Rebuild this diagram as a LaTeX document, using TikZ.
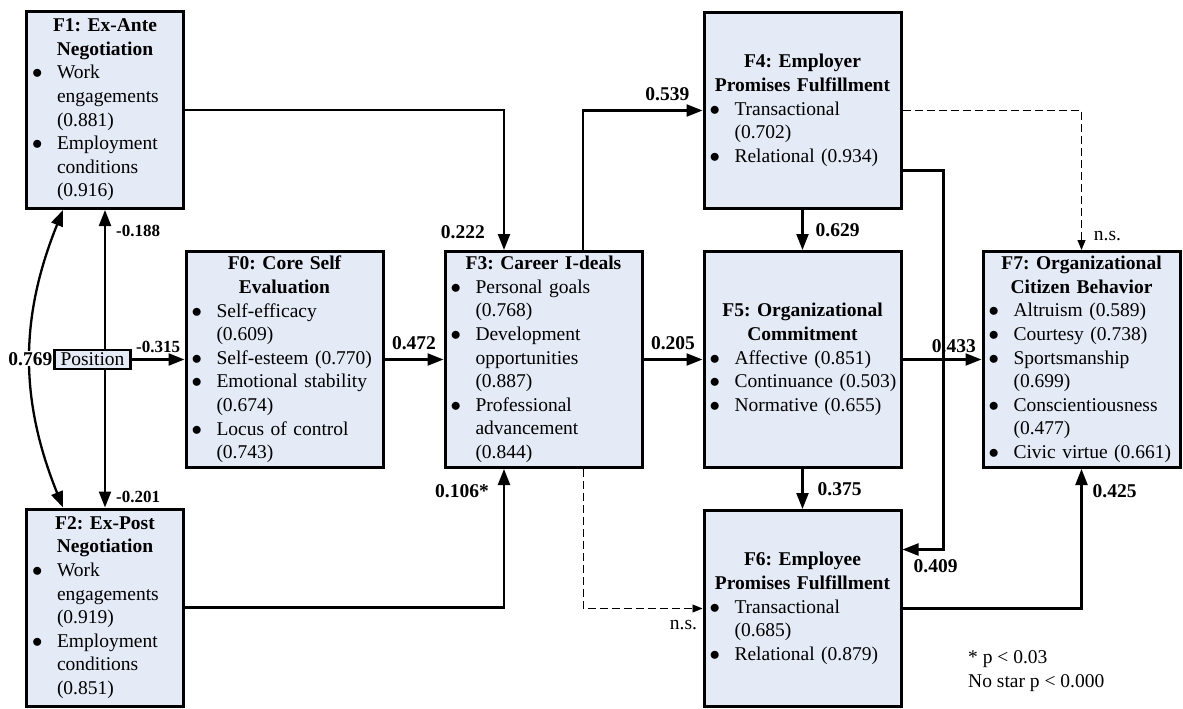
\documentclass[tikz,border=0pt]{standalone}
\usepackage{fontspec}
\setmainfont{Liberation Serif}
\usetikzlibrary{arrows.meta,positioning}
\definecolor{boxfill}{RGB}{228,234,246}
\frenchspacing
\newcommand{\itm}[1]{\par\noindent\hangindent=26pt\hangafter=1\makebox[26pt][l]{\hspace{1pt}$\bullet$}{\let\\\newline #1}\par}
\newcommand{\ttl}[1]{{\centering\bfseries #1\par}}

\begin{document}
\begin{tikzpicture}[x=1pt, y=1pt, node distance=259pt,
	every node/.style={font=\fontsize{19.5pt}{23.6pt}\selectfont},
	>={Triangle[length=16pt,width=12pt]},
	factor/.style={draw, line width=3pt, fill=boxfill, inner xsep=4.5pt, inner ysep=0pt},
	wide/.style={factor, text width=188pt, minimum height=216pt},
	tall/.style={factor, text width=188pt, minimum height=196pt},
	narrow/.style={factor, text width=148pt, minimum height=197pt},
	link/.style={line width=2.3pt, ->},
	nslink/.style={line width=0.9pt, dash pattern=on 8pt off 4pt, -{Triangle[length=10pt,width=8pt]}},
	coef/.style={font=\fontsize{19.5pt}{23.6pt}\selectfont\bfseries, inner sep=0pt},
	negcoef/.style={coef, font=\fontsize{17pt}{20pt}\selectfont\bfseries},
	ns/.style={inner sep=0pt}]
		\useasboundingbox (0,0) rectangle (1183,-709);
		\node[wide] (F0) at (284.5,-359.5) {\ttl{F0: Core Self\\Evaluation}\itm{Self-efficacy\\(0.609)}\itm{Self-esteem (0.770)}\itm{Emotional stability\\(0.674)}\itm{Locus of control\\(0.743)}};
		\node[wide] (F3) [right of=F0] {\ttl{F3: Career I-deals}\itm{Personal goals\\(0.768)}\itm{Development\\opportunities\\(0.887)}\itm{Professional\\advancement\\(0.844)}};
		\node[wide] (F5) [right of=F3] {\ttl{F5: Organizational\\Commitment}\itm{Affective (0.851)}\itm{Continuance (0.503)}\itm{Normative (0.655)}};
		\node[wide] (F7) [right of=F5, xshift=20pt] {\ttl{F7: Organizational\\Citizen Behavior}\itm{Altruism (0.589)}\itm{Courtesy (0.738)}\itm{Sportsmanship\\(0.699)}\itm{Conscientiousness\\(0.477)}\itm{Civic virtue (0.661)}};
		\node[tall] (F4) [above of=F5, node distance=249pt] {\ttl{F4: Employer\\Promises Fulfillment}\itm{Transactional\\(0.702)}\itm{Relational (0.934)}};
		\node[tall] (F6) [below of=F5, node distance=249pt] {\ttl{F6: Employee\\Promises Fulfillment}\itm{Transactional\\(0.685)}\itm{Relational (0.879)}};
		\node[narrow] (F1) at (105,-110) {\ttl{F1: Ex-Ante\\Negotiation}\itm{Work\\engagements\\(0.881)}\itm{Employment\\conditions\\(0.916)}};
		\node[narrow] (F2) at (105,-607.5) {\ttl{F2: Ex-Post\\Negotiation}\itm{Work\\engagements\\(0.919)}\itm{Employment\\conditions\\(0.851)}};
		\node[factor, line width=2.5pt, inner xsep=6pt, inner ysep=3pt] (Pos) at (92.5,-359.5) {Position};
		\node[anchor=north west, align=left, inner sep=0pt] (legend) at (968,-650.5) {* p < 0.03\\No star p < 0.000};
		\draw[link] (F1.east) -| ([xshift=-39.5pt]F3.north) node[coef, anchor=south east, xshift=-18pt, yshift=10pt] {0.222};
		\draw[link] ([xshift=39.5pt]F3.north) |- (F4.west) node[coef, anchor=south east, xshift=-12pt, yshift=8.5pt] {0.539};
		\draw[link] (Pos.east) -- (F0.west) node[negcoef, midway, above=6pt] {-0.315};
		\draw[link] (F0.east) -- (F3.west) node[coef, midway, above=9pt] {0.472};
		\draw[link] (F3.east) -- (F5.west) node[coef, midway, above=9pt] {0.205};
		\draw[link] (F5.east) -- (F7.west) node[coef, pos=0.65, above=6pt] {0.433};
		\draw[link] (F4.south) -- (F5.north) node[coef, midway, right=12pt] {0.629};
		\draw[link] (F5.south) -- (F6.north) node[coef, midway, right=14pt] {0.375};
		\draw[link] ([yshift=-60pt]F4.east) -- ++(41pt,0) |- ([yshift=59pt]F6.east) node[coef, anchor=north west, xshift=10pt, yshift=-9pt] {0.409};
		\draw[link] (Pos.north -| F1.south) -- (F1.south) node[negcoef, pos=0.85, right=10pt] {-0.188};
		\draw[link] (Pos.south -| F2.north) -- (F2.north) node[negcoef, pos=0.92, right=10pt] {-0.201};
		\draw[link] (F2.east) -| ([xshift=-39.5pt]F3.south) node[coef, pos=0.92, left=14pt] {0.106*};
		\draw[link] (F6.east) -| (F7.south) node[coef, pos=0.92, right=10pt] {0.425};
		\draw[nslink] (F4.east) -| (F7.north) node[ns, pos=0.95, right=12pt] {n.s.};
		\draw[nslink] ([xshift=39.5pt]F3.south) |- (F6.west) node[ns, anchor=north east, xshift=-5pt, yshift=-11pt] {n.s.};
		\draw[link, <->] ([xshift=-42pt]F1.south) to[bend right=22] node[coef, fill=white, inner sep=1pt] {0.769} ([xshift=-42pt]F2.north);
\end{tikzpicture}
\end{document}
